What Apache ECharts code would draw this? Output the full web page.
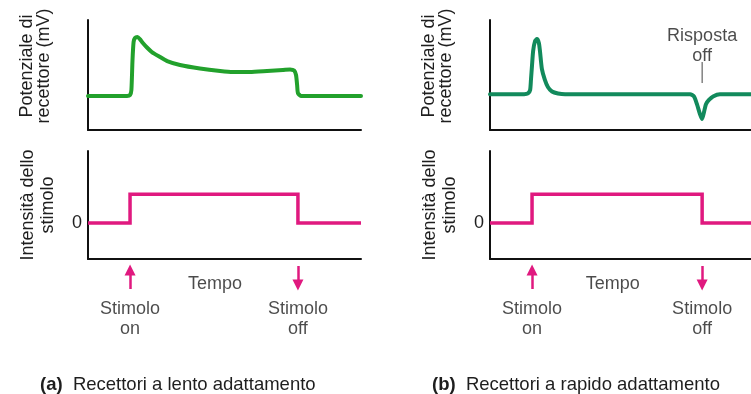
<!DOCTYPE html>
<html><head><meta charset="utf-8">
<script src="https://cdn.jsdelivr.net/npm/echarts@6/dist/echarts.min.js"></script>
<style>html,body{margin:0;padding:0;background:#fff}#c{width:751px;height:394px}</style>
</head><body><div id="c"></div>
<script>
// time axis: 0..100 (arbitrary units), potential: 0..100 (arbitrary units)
const slowResponse = [[0,31],[14.3,31],[15.4,31.8],[15.9,36.4],[16.3,63.6],[16.7,80],[17.2,83.6],[18.1,84.5],[19,82.7],[20.1,79.1],[21.6,75],[23.4,70.9],[26.4,66.4],[29,62.7],[33.7,59.1],[41,55.9],[48.4,53.6],[53.1,52.7],[59.3,52.7],[65.6,53.6],[71.4,54.5],[74,55],[75.5,54.1],[76.2,50],[76.6,40.9],[76.9,33.6],[78,31],[100,31]];
const rapidResponse = [[0,32.5],[12.5,32.5],[13.9,33.2],[14.7,36.4],[15,45.5],[15.4,59.1],[15.8,71.8],[16.5,80.9],[17.2,82.7],[17.9,79.1],[18.3,71.8],[19,55.5],[20.1,45.5],[21.2,39.1],[22.7,35],[24.9,33.2],[27.5,32.5],[73.3,32.5],[74.7,30.5],[75.8,23.5],[76.9,14.5],[77.7,10],[78.4,16.4],[79.1,23.5],[80.2,27.3],[81.7,30.5],[84.2,32.5],[95.6,32.5]];
const stimulusA = [[0,0],[15.4,0],[15.4,1],[76.9,1],[76.9,0],[100,0]];
const stimulusB = [[0,0],[15.4,0],[15.4,1],[77.7,1],[77.7,0],[95.6,0]];
const offMarkB = [[77.7,61.8],[77.7,42.7]];
const offLabelB = [[77.7,76]];
const onTimeA = 15.4, offTimeA = 76.9, onTimeB = 15.4, offTimeB = 77.7;
const tempoA = 46.5, tempoB = 45;
const captionA = 'Recettori a lento adattamento';
const captionB = 'Recettori a rapido adattamento';

const FONT = '"Liberation Sans", Arial, Helvetica, sans-serif';
const TXT = '#1e1e1e';
const GREEN_A = '#22a12c', GREEN_B = '#128a5c', MAG = '#e0197f';

const chart = echarts.init(document.getElementById('c'));
function xAx(gi, max, show){
  return {type:'value', gridIndex:gi, min:0, max:max, show:show,
    axisLine:{show:true, onZero:false, lineStyle:{color:'#111', width:2}},
    axisTick:{show:false}, axisLabel:{show:false}, splitLine:{show:false}};
}
function yAx(gi, opts){
  return Object.assign({type:'value', gridIndex:gi,
    axisLine:{show:true, onZero:false, lineStyle:{color:'#111', width:2}},
    axisTick:{show:false}, axisLabel:{show:false}, splitLine:{show:false},
    nameLocation:'middle', nameRotate:90}, opts);
}
const potName = {name:'Potenziale di\nrecettore (mV)', nameGap:35,
  nameTextStyle:{fontFamily:FONT, fontSize:18, lineHeight:17, color:TXT, padding:[0,0,0,18]}, min:0, max:100};
const stimName = {name:'Intensità dello\nstimolo', nameGap:30, min:-1.25, max:2.5, interval:1.25,
  nameTextStyle:{fontFamily:FONT, fontSize:18, lineHeight:20, color:TXT},
  axisLabel:{show:true, margin:6, fontFamily:FONT, fontSize:18, color:TXT,
    formatter: v => (Math.abs(v) < 1e-9 ? '0' : '')}};

function annot(gi, onT, offT, tempoT){
  return [
    {type:'lines', coordinateSystem:'cartesian2d', xAxisIndex:gi, yAxisIndex:gi,
      symbol:['none','triangle'], symbolSize:11, silent:true,
      lineStyle:{color:MAG, width:2.5, opacity:1},
      data:[{coords:[[onT,29],[onT,10]]},{coords:[[offT,6],[offT,25]]}]},
    {type:'scatter', xAxisIndex:gi, yAxisIndex:gi, symbolSize:0, silent:true,
      label:{show:true, position:'inside', formatter:'{b}', fontFamily:FONT, fontSize:18, lineHeight:20, color:TXT},
      data:[{name:'Tempo', value:[tempoT,24]},{name:'Stimolo\non', value:[onT,59]},{name:'Stimolo\noff', value:[offT,59]}]}
  ];
}
const capStyle = {fontFamily:FONT, fontSize:18.5, fontWeight:'normal', color:TXT,
  rich:{b:{fontFamily:FONT, fontSize:18.5, fontWeight:'bold', color:TXT}}};

chart.setOption({
  animation:false,
  title:[
    {left:35, top:370, text:'{b|(a)}  ' + captionA, textStyle:capStyle},
    {left:427, top:370, text:'{b|(b)}  ' + captionB, textStyle:capStyle}
  ],
  grid:[
    {left:88, top:20, width:273, height:110},
    {left:88, top:151, width:273, height:108},
    {left:490, top:20, width:261, height:110},
    {left:490, top:151, width:261, height:108},
    {left:88, top:260, width:273, height:80},
    {left:490, top:260, width:261, height:80}
  ],
  xAxis:[xAx(0,100,true), xAx(1,100,true), xAx(2,95.6,true), xAx(3,95.6,true), xAx(4,100,false), xAx(5,95.6,false)],
  yAxis:[yAx(0,potName), yAx(1,stimName), yAx(2,potName), yAx(3,stimName),
    {type:'value', gridIndex:4, min:0, max:80, inverse:true, show:false},
    {type:'value', gridIndex:5, min:0, max:80, inverse:true, show:false}],
  series:[
    {type:'line', xAxisIndex:0, yAxisIndex:0, data:slowResponse, showSymbol:false, smooth:0.2,
      lineStyle:{color:GREEN_A, width:4, cap:'round', join:'round'}},
    {type:'line', xAxisIndex:1, yAxisIndex:1, data:stimulusA, showSymbol:false,
      lineStyle:{color:MAG, width:3.5, join:'miter'}},
    {type:'line', xAxisIndex:2, yAxisIndex:2, data:rapidResponse, showSymbol:false, smooth:0.2,
      lineStyle:{color:GREEN_B, width:4, cap:'round', join:'round'}},
    {type:'line', xAxisIndex:3, yAxisIndex:3, data:stimulusB, showSymbol:false,
      lineStyle:{color:MAG, width:3.5, join:'miter'}},
    {type:'line', xAxisIndex:2, yAxisIndex:2, data:offMarkB, showSymbol:false,
      lineStyle:{color:'#444', width:1}},
    {type:'scatter', xAxisIndex:2, yAxisIndex:2, data:offLabelB, symbolSize:0,
      label:{show:true, position:'inside', formatter:'Risposta\noff', fontFamily:FONT, fontSize:18, lineHeight:20, color:TXT}}
  ].concat(annot(4, onTimeA, offTimeA, tempoA), annot(5, onTimeB, offTimeB, tempoB))
});
</script></body></html>
